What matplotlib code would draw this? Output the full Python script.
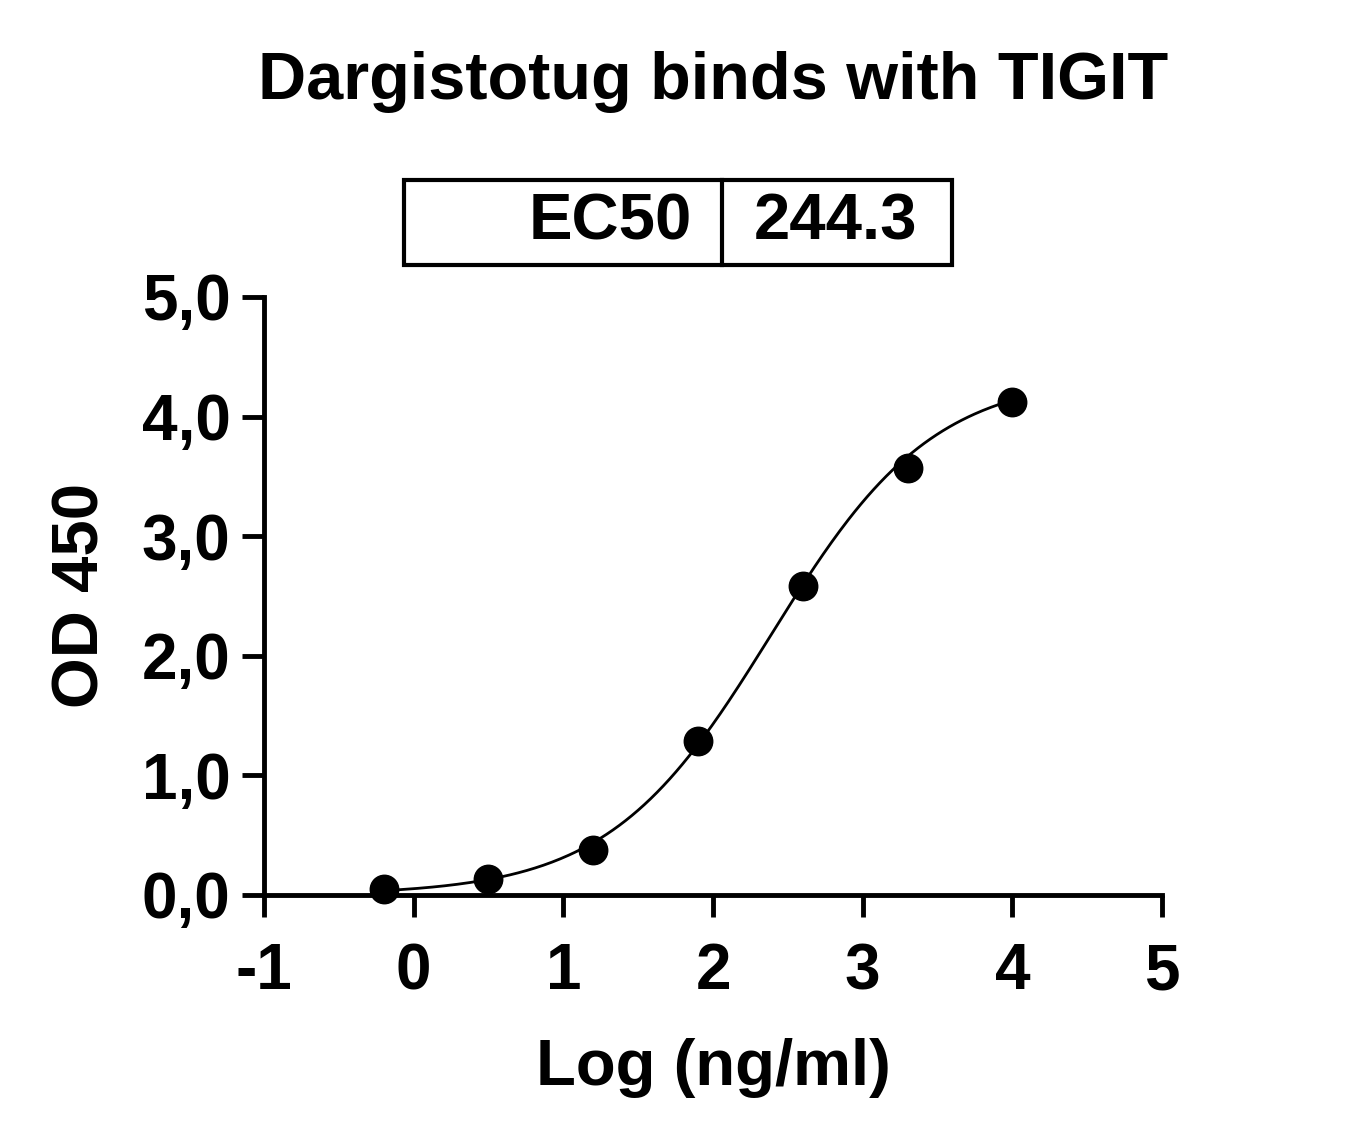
import numpy as np
import matplotlib
matplotlib.use("Agg")
import matplotlib.pyplot as plt
from matplotlib.patches import Rectangle

plt.rcParams['font.family'] = ['Liberation Sans', 'DejaVu Sans']
plt.rcParams['font.weight'] = 'bold'

log_conc = [-0.2, 0.5, 1.2, 1.9, 2.6, 3.3, 4.0]
od450 = [0.05, 0.13, 0.38, 1.29, 2.58, 3.57, 4.12]
ec50 = 244.3
top, bottom, hill = 4.35, 0.0, 0.8
xticks = [-1, 0, 1, 2, 3, 4, 5]
yticks = [0, 1, 2, 3, 4, 5]
ylabels = ["0,0", "1,0", "2,0", "3,0", "4,0", "5,0"]

fig = plt.figure(figsize=(13.62, 11.42), dpi=100)
ax = fig.add_axes([264/1362, 1-895/1142, 898/1362, 598/1142])
xs = np.linspace(min(log_conc), max(log_conc), 300)
ys = bottom + (top-bottom)/(1+10**((np.log10(ec50)-xs)*hill))
ax.plot(xs, ys, color='black', lw=2)
ax.scatter(log_conc, od450, s=420, color='black', zorder=3, clip_on=False)
ax.set_xlim(-1, 5); ax.set_ylim(0, 5)
ax.set_xticks(xticks); ax.set_xticklabels([str(t) for t in xticks])
ax.set_yticks(yticks); ax.set_yticklabels(ylabels)
for s in ['top', 'right']:
    ax.spines[s].set_visible(False)
for s in ['left', 'bottom']:
    ax.spines[s].set_linewidth(3.5)
ax.tick_params(width=3.5, length=16, labelsize=46)
ax.tick_params(axis='x', pad=18)
ax.tick_params(axis='y', pad=8)
ax.set_xlabel("Log (ng/ml)", fontsize=47, fontweight='bold', labelpad=26)
ax.set_ylabel("OD 450", fontsize=47, fontweight='bold', labelpad=22)

fig.text(713/1362, 1-82/1142, "Dargistotug binds with TIGIT", fontsize=48,
         fontweight='bold', ha='center', va='center')
x0, x1, xm = 404/1362, 952/1362, 722/1362
y0, y1 = 1-265/1142, 1-180/1142
fig.add_artist(Rectangle((x0, y0), x1-x0, y1-y0, transform=fig.transFigure,
                         fill=False, lw=3, color='black'))
fig.add_artist(plt.Line2D([xm, xm], [y0, y1], transform=fig.transFigure, lw=3, color='black'))
fig.text(692/1362, (y0+y1)/2, "EC50", fontsize=47, fontweight='bold', ha='right', va='center')
fig.text(835/1362, (y0+y1)/2, f"{ec50}", fontsize=47, fontweight='bold', ha='center', va='center')

fig.savefig("out.png", dpi=100)
